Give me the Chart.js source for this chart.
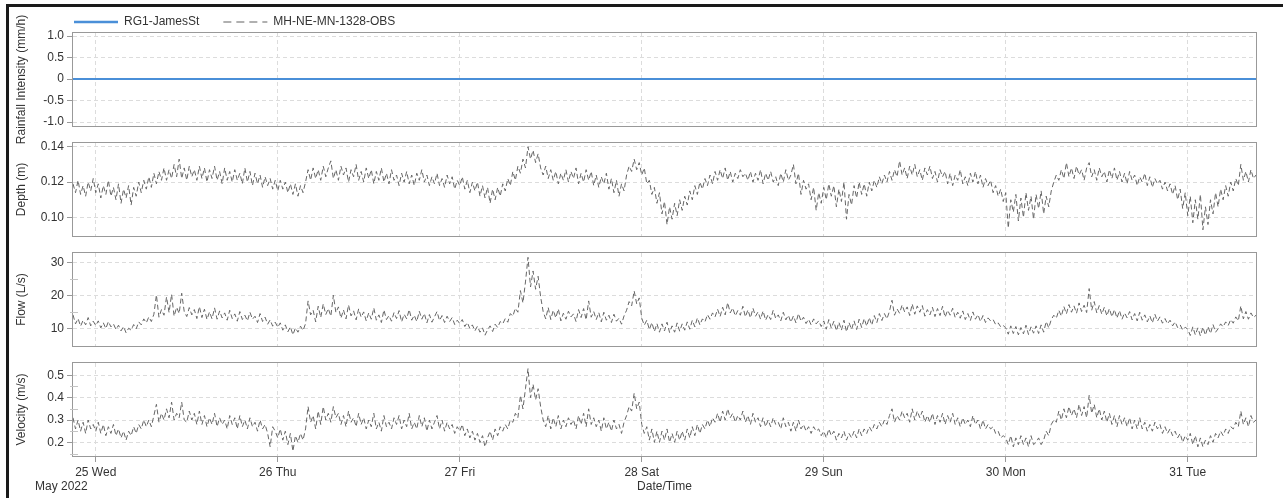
<!DOCTYPE html>
<html>
<head>
<meta charset="utf-8">
<title>MH-NE-MN-1328 flow monitor</title>
<script src="https://cdn.jsdelivr.net/npm/chart.js@4.4.1/dist/chart.umd.min.js"></script>
<style>
  html, body { margin: 0; padding: 0; background: #fff; overflow: hidden; }
  body { width: 1283px; height: 498px; position: relative; }
  #frame { position: absolute; left: 6px; top: 4px; right: 0; bottom: 0; border-left: 3px solid #1a1a1a; border-top: 3px solid #1a1a1a; }
  canvas { position: absolute; left: 0; top: 0; }
</style>
</head>
<body>
<div id="frame"></div>
<canvas id="rain-chart" width="1283" height="174"></canvas>
<canvas id="depth-chart" width="1283" height="117"></canvas>
<canvas id="flow-chart" width="1283" height="117"></canvas>
<canvas id="velocity-chart" width="1283" height="145"></canvas>
<script>
// x axis is in hours after 24 May 2022 00:00
const seriesStart = 21;       // first logger reading, 24 May 21:00
const seriesStep = 1 / 3;     // 20 minute logger interval
const rainStep = 6;           // rain gauge totals every 6 h
const axisMin = 21;
const axisMax = 177;          // 31 May 09:00

const dayTicks = [24, 48, 72, 96, 120, 144, 168];
const dayLabels = ['25 Wed', '26 Thu', '27 Fri', '28 Sat', '29 Sun', '30 Mon', '31 Tue'];

const rainTicks = [-1, -0.5, 0, 0.5, 1];
const depthTicks = [0.10, 0.12, 0.14];
const flowTicks = [10, 20, 30];
const flowMinorTicks = [15, 25];
const velocityTicks = [0.2, 0.3, 0.4, 0.5];
const velocityMinorTicks = [0.15, 0.25, 0.35, 0.45];

// RG1-JamesSt (mm/h) - dry week
const rainfall = [0, 0, 0, 0, 0, 0, 0, 0, 0, 0, 0, 0, 0, 0, 0, 0, 0, 0, 0, 0, 0, 0, 0, 0, 0, 0, 0];

// MH-NE-MN-1328-OBS depth (m)
const depth = [
  // 24 May
  0.119, 0.114, 0.121, 0.113, 0.118, 0.112, 0.120, 0.115, 0.122,
  // 25 May
  0.114, 0.119, 0.111, 0.118, 0.113, 0.121, 0.112, 0.117, 0.110, 0.119, 0.108, 0.116,
  0.111, 0.118, 0.107, 0.117, 0.112, 0.120, 0.114, 0.121, 0.116, 0.123, 0.117, 0.125,
  0.119, 0.126, 0.121, 0.128, 0.121, 0.127, 0.122, 0.130, 0.123, 0.133, 0.122, 0.128,
  0.121, 0.129, 0.123, 0.127, 0.121, 0.129, 0.122, 0.128, 0.120, 0.127, 0.122, 0.129,
  0.121, 0.126, 0.119, 0.128, 0.121, 0.126, 0.120, 0.127, 0.121, 0.125, 0.119, 0.128,
  0.120, 0.126, 0.118, 0.125, 0.119, 0.124, 0.117, 0.123, 0.118, 0.122, 0.116, 0.121,
  // 26 May
  0.115, 0.121, 0.116, 0.120, 0.114, 0.119, 0.113, 0.119, 0.112, 0.118, 0.114, 0.120,
  0.127, 0.121, 0.128, 0.122, 0.127, 0.121, 0.129, 0.123, 0.128, 0.132, 0.122, 0.127,
  0.121, 0.129, 0.124, 0.128, 0.120, 0.127, 0.123, 0.130, 0.121, 0.126, 0.120, 0.128,
  0.122, 0.127, 0.119, 0.126, 0.121, 0.128, 0.120, 0.125, 0.119, 0.127, 0.121, 0.124,
  0.118, 0.125, 0.120, 0.126, 0.119, 0.124, 0.118, 0.125, 0.121, 0.127, 0.120, 0.124,
  0.118, 0.123, 0.119, 0.125, 0.118, 0.122, 0.117, 0.124, 0.119, 0.123, 0.116, 0.121,
  // 27 May
  0.118, 0.123, 0.116, 0.121, 0.114, 0.120, 0.115, 0.120, 0.112, 0.118, 0.111, 0.117,
  0.108, 0.116, 0.110, 0.117, 0.112, 0.119, 0.115, 0.122, 0.118, 0.126, 0.121, 0.129,
  0.125, 0.133, 0.128, 0.140, 0.133, 0.138, 0.131, 0.136, 0.128, 0.124, 0.129, 0.122,
  0.127, 0.121, 0.126, 0.119, 0.125, 0.121, 0.127, 0.120, 0.126, 0.122, 0.128, 0.119,
  0.125, 0.120, 0.127, 0.121, 0.126, 0.118, 0.124, 0.117, 0.123, 0.119, 0.125, 0.116,
  0.122, 0.114, 0.121, 0.112, 0.119, 0.115, 0.124, 0.129, 0.126, 0.133, 0.127, 0.131,
  // 28 May
  0.124, 0.128, 0.119, 0.121, 0.113, 0.117, 0.108, 0.114, 0.102, 0.109, 0.096, 0.106,
  0.099, 0.108, 0.101, 0.110, 0.104, 0.112, 0.107, 0.115, 0.110, 0.118, 0.113, 0.120,
  0.116, 0.122, 0.118, 0.124, 0.119, 0.126, 0.121, 0.127, 0.122, 0.128, 0.121, 0.126,
  0.120, 0.125, 0.122, 0.127, 0.123, 0.125, 0.121, 0.126, 0.120, 0.125, 0.121, 0.127,
  0.119, 0.125, 0.121, 0.126, 0.120, 0.123, 0.118, 0.125, 0.120, 0.127, 0.121, 0.124,
  0.130, 0.119, 0.125, 0.113, 0.121, 0.116, 0.119, 0.110, 0.117, 0.104, 0.114, 0.108,
  // 29 May
  0.117, 0.110, 0.119, 0.112, 0.118, 0.106, 0.116, 0.109, 0.120, 0.099, 0.113, 0.107,
  0.118, 0.111, 0.120, 0.113, 0.119, 0.112, 0.120, 0.115, 0.121, 0.117, 0.123, 0.119,
  0.124, 0.120, 0.126, 0.121, 0.127, 0.123, 0.132, 0.124, 0.128, 0.122, 0.129, 0.124,
  0.130, 0.123, 0.127, 0.121, 0.128, 0.124, 0.129, 0.122, 0.126, 0.120, 0.127, 0.123,
  0.126, 0.119, 0.125, 0.118, 0.124, 0.121, 0.127, 0.119, 0.123, 0.118, 0.125, 0.120,
  0.126, 0.119, 0.124, 0.117, 0.122, 0.118, 0.121, 0.114, 0.118, 0.112, 0.116, 0.109,
  // 30 May
  0.114, 0.094, 0.110, 0.103, 0.113, 0.098, 0.111, 0.100, 0.114, 0.104, 0.112, 0.099,
  0.113, 0.105, 0.115, 0.102, 0.112, 0.106, 0.115, 0.120, 0.124, 0.121, 0.127, 0.122,
  0.131, 0.123, 0.128, 0.122, 0.129, 0.124, 0.127, 0.121, 0.128, 0.131, 0.123, 0.127,
  0.121, 0.128, 0.123, 0.126, 0.120, 0.127, 0.122, 0.128, 0.121, 0.126, 0.120, 0.125,
  0.119, 0.126, 0.121, 0.124, 0.118, 0.123, 0.120, 0.125, 0.118, 0.123, 0.117, 0.122,
  0.119, 0.121, 0.116, 0.120, 0.115, 0.119, 0.113, 0.118, 0.110, 0.116, 0.105, 0.114,
  // 31 May
  0.101, 0.112, 0.097, 0.110, 0.099, 0.113, 0.093, 0.106, 0.096, 0.110, 0.102, 0.114,
  0.106, 0.116, 0.110, 0.118, 0.112, 0.120, 0.115, 0.122, 0.118, 0.130, 0.121, 0.126,
  0.120, 0.127, 0.122, 0.124
];

// MH-NE-MN-1328-OBS flow (L/s)
const flow = [
  // 24 May
  14.2, 11.5, 13.1, 10.8, 12.6, 11.2, 13.4, 10.9, 12.3,
  // 25 May
  11.0, 12.4, 10.3, 11.8, 10.1, 12.2, 10.6, 11.5, 9.8, 11.1, 9.4, 10.7,
  8.8, 10.2, 9.6, 11.3, 10.0, 12.1, 11.2, 13.0, 11.8, 13.6, 12.2, 14.4,
  20.2, 13.5, 15.8, 14.1, 19.6, 14.9, 20.4, 13.8, 16.5, 14.6, 20.7, 15.2,
  13.7, 16.4, 14.2, 15.8, 13.1, 16.7, 13.4, 15.9, 12.8, 15.1, 13.0, 16.3,
  12.9, 15.4, 13.3, 14.8, 12.6, 15.6, 13.1, 14.5, 12.3, 15.2, 12.8, 14.1,
  12.4, 15.0, 12.9, 13.8, 11.9, 14.6, 12.2, 13.5, 11.4, 12.7, 10.8, 12.0,
  // 26 May
  10.5, 11.8, 9.6, 11.2, 9.1, 10.6, 8.2, 10.3, 9.0, 10.8, 9.5, 11.6,
  18.4, 14.2, 15.6, 12.1, 16.8, 13.4, 17.5, 14.3, 16.1, 13.8, 20.1, 14.9,
  16.6, 13.2, 15.7, 13.0, 17.2, 13.9, 15.4, 12.7, 16.0, 13.5, 15.1, 12.4,
  14.8, 12.9, 16.3, 12.6, 14.2, 11.9, 15.7, 12.8, 14.0, 12.3, 14.9, 13.1,
  15.5, 12.1, 14.4, 13.0, 15.8, 12.6, 14.1, 12.2, 15.3, 12.9, 14.6, 11.8,
  14.3, 12.0, 13.6, 15.2, 12.5, 14.0, 11.9, 13.8, 12.2, 13.4, 11.3, 12.6,
  // 27 May
  11.6, 12.8, 10.7, 11.9, 10.1, 11.2, 9.4, 10.8, 9.0, 10.3, 8.1, 9.7,
  10.9, 9.2, 11.4, 10.4, 12.2, 11.5, 13.1, 12.0, 14.6, 13.8, 16.2, 15.0,
  21.5, 17.8, 24.1, 31.5, 22.6, 27.4, 21.9, 25.8, 19.6, 15.2, 13.0, 16.4,
  12.8, 15.6, 13.3, 16.0, 12.4, 14.7, 12.9, 15.3, 13.6, 14.5, 12.2, 15.8,
  13.4, 16.1, 12.7, 18.4, 13.5, 15.2, 12.8, 14.9, 12.1, 15.0, 12.6, 14.1,
  11.9, 14.4, 12.3, 13.2, 11.4, 13.9, 15.6, 18.2, 16.9, 21.4, 17.5, 19.3,
  // 28 May
  13.2, 11.1, 12.6, 9.8, 11.9, 9.2, 11.6, 9.0, 11.5, 9.4, 12.0, 8.9,
  10.9, 9.0, 11.8, 9.3, 11.5, 9.6, 12.1, 9.9, 12.6, 10.6, 13.3, 11.2,
  13.0, 12.1, 14.3, 12.9, 14.8, 13.6, 15.9, 13.7, 16.5, 14.2, 17.9, 14.8,
  16.3, 13.9, 15.5, 14.1, 16.8, 13.6, 15.7, 13.3, 16.2, 13.8, 15.1, 12.9,
  15.4, 12.6, 14.3, 12.8, 15.6, 13.1, 14.2, 12.4, 15.0, 12.7, 14.1, 12.0,
  13.9, 11.8, 14.6, 12.3, 13.5, 11.6, 12.9, 11.2, 13.0, 11.5, 12.4, 10.7,
  // 29 May
  12.4, 9.9, 12.8, 10.2, 12.3, 9.4, 12.0, 9.6, 12.6, 9.1, 11.9, 9.8,
  12.4, 9.8, 12.9, 10.4, 13.1, 10.8, 13.4, 11.1, 14.0, 11.9, 14.6, 12.5,
  14.6, 13.0, 15.3, 18.6, 14.1, 16.0, 14.7, 17.2, 15.1, 16.6, 14.0, 17.5,
  14.4, 16.9, 15.0, 17.0, 13.8, 15.8, 14.2, 16.5, 13.7, 16.1, 14.0, 16.8,
  13.5, 15.6, 14.1, 16.2, 13.4, 15.0, 13.2, 15.4, 12.8, 14.6, 12.5, 15.1,
  12.9, 14.3, 12.2, 14.0, 11.9, 13.3, 12.4, 12.8, 11.3, 11.8, 10.6, 11.0,
  // 30 May
  10.3, 8.4, 10.9, 8.6, 10.7, 8.2, 10.4, 8.5, 11.1, 8.3, 10.6, 8.7,
  10.9, 8.6, 11.2, 9.0, 12.2, 10.3, 12.8, 14.1, 13.2, 15.6, 13.8, 16.7,
  14.5, 17.3, 15.0, 16.9, 14.7, 17.8, 15.2, 17.1, 14.9, 22.1, 15.6, 18.2,
  14.8, 17.0, 14.4, 16.5, 13.9, 16.1, 13.6, 15.8, 13.2, 15.5, 12.9, 14.8,
  13.3, 15.2, 12.7, 14.6, 12.4, 15.0, 12.6, 14.2, 12.1, 13.9, 11.8, 14.4,
  12.3, 13.6, 11.7, 13.1, 11.5, 12.6, 10.9, 12.1, 10.4, 11.2, 9.6, 10.5,
  // 31 May
  9.9, 8.0, 10.6, 8.2, 10.3, 7.9, 10.5, 8.1, 10.7, 8.6, 11.3, 9.0,
  10.0, 11.5, 10.6, 12.1, 11.0, 12.8, 11.7, 13.6, 12.4, 16.9, 13.0, 15.2,
  12.9, 14.8, 13.4, 14.1
];

// MH-NE-MN-1328-OBS velocity (m/s)
const velocity = [
  // 24 May
  0.31, 0.26, 0.30, 0.25, 0.29, 0.24, 0.30, 0.26, 0.28,
  // 25 May
  0.25, 0.29, 0.24, 0.28, 0.23, 0.27, 0.24, 0.28, 0.23, 0.26, 0.22, 0.25,
  0.21, 0.25, 0.23, 0.27, 0.24, 0.28, 0.26, 0.30, 0.27, 0.30, 0.27, 0.32,
  0.37, 0.29, 0.33, 0.30, 0.35, 0.31, 0.38, 0.30, 0.33, 0.31, 0.38, 0.30,
  0.29, 0.34, 0.30, 0.33, 0.28, 0.34, 0.28, 0.32, 0.27, 0.31, 0.28, 0.33,
  0.27, 0.31, 0.28, 0.30, 0.26, 0.32, 0.28, 0.31, 0.26, 0.32, 0.27, 0.30,
  0.26, 0.31, 0.27, 0.29, 0.25, 0.30, 0.26, 0.28, 0.24, 0.18, 0.27, 0.25,
  // 26 May
  0.22, 0.26, 0.21, 0.25, 0.19, 0.24, 0.16, 0.23, 0.20, 0.24, 0.21, 0.26,
  0.36, 0.29, 0.32, 0.26, 0.34, 0.28, 0.36, 0.30, 0.33, 0.29, 0.36, 0.31,
  0.33, 0.28, 0.32, 0.27, 0.34, 0.29, 0.31, 0.27, 0.33, 0.28, 0.31, 0.26,
  0.30, 0.27, 0.33, 0.26, 0.29, 0.25, 0.32, 0.27, 0.29, 0.26, 0.31, 0.28,
  0.32, 0.26, 0.30, 0.27, 0.33, 0.26, 0.29, 0.26, 0.32, 0.27, 0.31, 0.25,
  0.30, 0.26, 0.29, 0.32, 0.26, 0.30, 0.25, 0.29, 0.26, 0.28, 0.24, 0.27,
  // 27 May
  0.25, 0.28, 0.23, 0.26, 0.22, 0.25, 0.21, 0.24, 0.20, 0.23, 0.18, 0.22,
  0.25, 0.21, 0.26, 0.23, 0.27, 0.25, 0.28, 0.26, 0.30, 0.29, 0.33, 0.31,
  0.41, 0.35, 0.44, 0.53, 0.40, 0.46, 0.39, 0.44, 0.36, 0.30, 0.27, 0.32,
  0.26, 0.31, 0.27, 0.32, 0.26, 0.30, 0.27, 0.31, 0.28, 0.30, 0.26, 0.32,
  0.28, 0.33, 0.27, 0.35, 0.28, 0.31, 0.27, 0.30, 0.25, 0.31, 0.26, 0.29,
  0.25, 0.30, 0.26, 0.28, 0.24, 0.29, 0.32, 0.36, 0.34, 0.42, 0.35, 0.38,
  // 28 May
  0.28, 0.24, 0.27, 0.21, 0.26, 0.20, 0.25, 0.20, 0.25, 0.21, 0.26, 0.20,
  0.24, 0.20, 0.25, 0.21, 0.25, 0.21, 0.26, 0.22, 0.27, 0.23, 0.28, 0.24,
  0.28, 0.26, 0.30, 0.27, 0.31, 0.29, 0.33, 0.29, 0.34, 0.30, 0.35, 0.31,
  0.33, 0.29, 0.32, 0.30, 0.34, 0.29, 0.32, 0.28, 0.33, 0.29, 0.31, 0.27,
  0.31, 0.27, 0.30, 0.27, 0.31, 0.28, 0.29, 0.26, 0.31, 0.27, 0.29, 0.25,
  0.29, 0.25, 0.30, 0.26, 0.28, 0.25, 0.27, 0.24, 0.27, 0.25, 0.26, 0.23,
  // 29 May
  0.25, 0.22, 0.26, 0.23, 0.25, 0.21, 0.24, 0.22, 0.25, 0.21, 0.24, 0.22,
  0.25, 0.22, 0.26, 0.23, 0.26, 0.24, 0.27, 0.25, 0.28, 0.26, 0.29, 0.27,
  0.30, 0.28, 0.32, 0.35, 0.29, 0.32, 0.30, 0.34, 0.31, 0.33, 0.29, 0.35,
  0.30, 0.34, 0.31, 0.34, 0.29, 0.32, 0.29, 0.33, 0.28, 0.32, 0.29, 0.33,
  0.28, 0.32, 0.29, 0.33, 0.28, 0.31, 0.27, 0.31, 0.28, 0.30, 0.27, 0.32,
  0.28, 0.30, 0.26, 0.30, 0.26, 0.28, 0.26, 0.27, 0.24, 0.25, 0.22, 0.23,
  // 30 May
  0.22, 0.19, 0.23, 0.18, 0.22, 0.19, 0.23, 0.19, 0.22, 0.18, 0.23, 0.19,
  0.20, 0.22, 0.19, 0.21, 0.25, 0.23, 0.28, 0.30, 0.29, 0.34, 0.30, 0.35,
  0.31, 0.36, 0.32, 0.35, 0.31, 0.37, 0.32, 0.36, 0.31, 0.41, 0.33, 0.37,
  0.31, 0.35, 0.30, 0.34, 0.29, 0.33, 0.28, 0.32, 0.27, 0.32, 0.28, 0.31,
  0.27, 0.31, 0.26, 0.30, 0.26, 0.31, 0.26, 0.29, 0.25, 0.28, 0.25, 0.29,
  0.26, 0.28, 0.24, 0.27, 0.24, 0.26, 0.23, 0.25, 0.22, 0.24, 0.20, 0.23,
  // 31 May
  0.21, 0.24, 0.19, 0.23, 0.18, 0.22, 0.18, 0.21, 0.19, 0.23, 0.20, 0.24,
  0.22, 0.25, 0.23, 0.26, 0.24, 0.27, 0.26, 0.29, 0.27, 0.34, 0.28, 0.31,
  0.27, 0.32, 0.29, 0.30
];

// ---------------------------------------------------------------------------

Chart.defaults.font.family = '"Liberation Sans", Arial, Helvetica, sans-serif';
Chart.defaults.font.size = 12;
Chart.defaults.color = '#333';

const PLOT_LEFT = 73;        // all panels share the same plot box
const PLOT_RIGHT = 1256;
const PLOT_HEIGHT = 93;
const PAD_LEFT = 14;
const LEGEND_PAD = 24;

const obsColor = '#666';
const rainColor = '#4a8fd8';
const gridColor = '#dcdcdc';

function toPoints(values, start, step) {
    return values.map((v, i) => ({ x: start + i * step, y: v }));
}

// grey box round each plot area
const plotFrame = {
    id: 'plotFrame',
    afterDraw(chart) {
        const a = chart.chartArea;
        const ctx = chart.ctx;
        ctx.save();
        ctx.strokeStyle = '#999';
        ctx.lineWidth = 1;
        ctx.strokeRect(a.left - 0.5, a.top - 0.5, a.right - a.left + 1, a.bottom - a.top + 1);
        ctx.restore();
    }
};

// short unlabelled ticks between the labelled ones
const minorTicks = {
    id: 'minorTicks',
    afterDraw(chart, args, opts) {
        if (!opts.values) return;
        const ys = chart.scales.y;
        const ctx = chart.ctx;
        const left = chart.chartArea.left;
        ctx.save();
        ctx.strokeStyle = '#c4c4c4';
        ctx.lineWidth = 1;
        ctx.beginPath();
        opts.values.forEach(v => {
            const y = Math.round(ys.getPixelForValue(v)) + 0.5;
            ctx.moveTo(left - 3, y);
            ctx.lineTo(left + 5, y);
        });
        ctx.stroke();
        ctx.restore();
    }
};

// legend sits over the plot, not over the axis title
const legendOffset = {
    id: 'legendOffset',
    afterLayout(chart) {
        chart.legend.left = PLOT_LEFT + 1 - LEGEND_PAD;
        chart.legend.top = 9;
    }
};

// month/year under the first day label
const monthLabel = {
    id: 'monthLabel',
    afterDraw(chart) {
        const ctx = chart.ctx;
        const xs = chart.scales.x;
        ctx.save();
        ctx.font = '12px "Liberation Sans", Arial, sans-serif';
        ctx.fillStyle = '#333';
        ctx.textAlign = 'left';
        ctx.textBaseline = 'middle';
        ctx.fillText('May 2022', chart.chartArea.left - 38, xs.bottom - 2 - 7.2);
        ctx.restore();
    }
};

function panelConfig(cfg) {
    return {
        type: 'line',
        data: { datasets: cfg.datasets },
        options: {
            responsive: false,
            maintainAspectRatio: false,
            animation: false,
            devicePixelRatio: 1,
            layout: {
                padding: { left: PAD_LEFT, right: 1283 - PLOT_RIGHT, top: cfg.padTop, bottom: cfg.padBottom }
            },
            elements: {
                point: { radius: 0, hoverRadius: 0 },
                line: { tension: 0 }
            },
            scales: {
                x: {
                    type: 'linear',
                    min: axisMin,
                    max: axisMax,
                    afterBuildTicks: (scale) => { scale.ticks = dayTicks.map(v => ({ value: v })); },
                    afterFit: (scale) => { scale.height = cfg.xHeight; },
                    grid: { color: gridColor, drawTicks: cfg.showX, tickLength: 6, tickColor: '#999' },
                    border: { display: false, dash: [4, 3] },
                    ticks: {
                        display: cfg.showX,
                        maxRotation: 0,
                        autoSkip: false,
                        padding: 3,
                        callback: (value, index) => dayLabels[index]
                    },
                    title: { display: cfg.showX, text: 'Date/Time', padding: { top: 0, bottom: 2 } }
                },
                y: {
                    min: cfg.min,
                    max: cfg.max,
                    afterBuildTicks: (scale) => { scale.ticks = cfg.ticks.map(v => ({ value: v })); },
                    afterFit: (scale) => { scale.width = PLOT_LEFT - PAD_LEFT; },
                    grid: { color: gridColor, tickLength: 6, tickColor: '#999' },
                    border: { display: false, dash: [4, 3] },
                    ticks: { padding: 3, callback: cfg.format },
                    title: { display: true, text: cfg.title, padding: { top: 0, bottom: 0 } }
                }
            },
            plugins: {
                legend: cfg.legend || { display: false },
                tooltip: { enabled: false },
                minorTicks: { values: cfg.minor }
            }
        },
        plugins: [plotFrame, minorTicks].concat(cfg.plugins || [])
    };
}

// build a panel, then size and slide its canvas so the plot box lands on plotTop
function buildPanel(canvasId, cfg) {
    const canvas = document.getElementById(canvasId);
    let chart = new Chart(canvas, panelConfig(cfg));
    const extra = PLOT_HEIGHT - (chart.chartArea.bottom - chart.chartArea.top);
    if (Math.abs(extra) > 0.01) {
        const h = canvas.height + extra;
        chart.destroy();
        canvas.height = h;
        canvas.style.height = h + 'px';
        chart = new Chart(canvas, panelConfig(cfg));
    }
    canvas.style.top = Math.round(cfg.plotTop - chart.chartArea.top) + 'px';
    return chart;
}

function obsDataset(values) {
    return {
        label: 'MH-NE-MN-1328-OBS',
        data: toPoints(values, seriesStart, seriesStep),
        borderColor: obsColor,
        borderWidth: 1,
        borderDash: [5, 3]
    };
}

buildPanel('rain-chart', {
    plotTop: 33, padTop: 4, padBottom: 31, xHeight: 0, showX: false,
    min: -1.09, max: 1.07, ticks: rainTicks,
    format: (v) => (v === 0 ? '0' : v.toFixed(1)),
    title: 'Rainfall Intensity (mm/h)',
    datasets: [
        {
            label: 'RG1-JamesSt',
            data: toPoints(rainfall, seriesStart, rainStep),
            borderColor: rainColor,
            borderWidth: 2
        },
        {
            label: 'MH-NE-MN-1328-OBS',
            data: [],
            borderColor: '#b0b0b0',
            borderWidth: 1.5,
            borderDash: [8, 5]
        }
    ],
    legend: {
        display: true,
        position: 'top',
        align: 'start',
        labels: {
            usePointStyle: true,
            pointStyle: 'line',
            pointStyleWidth: 44,
            padding: LEGEND_PAD,
            color: '#333',
            generateLabels(chart) {
                const items = Chart.defaults.plugins.legend.labels.generateLabels(chart);
                items.forEach(item => {
                    const ds = chart.data.datasets[item.datasetIndex];
                    item.strokeStyle = ds.borderColor;
                    item.lineWidth = ds.borderWidth + 0.5;
                    item.lineDash = ds.borderDash || [];
                });
                return items;
            }
        }
    },
    plugins: [legendOffset]
});

buildPanel('depth-chart', {
    plotTop: 143, padTop: 12, padBottom: 12, xHeight: 0, showX: false,
    min: 0.0895, max: 0.1421, ticks: depthTicks,
    format: (v) => v.toFixed(2),
    title: 'Depth (m)',
    datasets: [obsDataset(depth)]
});

buildPanel('flow-chart', {
    plotTop: 253, padTop: 12, padBottom: 12, xHeight: 0, showX: false,
    min: 4.85, max: 32.8, ticks: flowTicks, minor: flowMinorTicks,
    format: (v) => String(v),
    title: 'Flow (L/s)',
    datasets: [obsDataset(flow)]
});

buildPanel('velocity-chart', {
    plotTop: 363, padTop: 12, padBottom: 0, xHeight: 40, showX: true,
    min: 0.139, max: 0.555, ticks: velocityTicks, minor: velocityMinorTicks,
    format: (v) => v.toFixed(1),
    title: 'Velocity (m/s)',
    datasets: [obsDataset(velocity)],
    plugins: [monthLabel]
});
</script>
</body>
</html>
